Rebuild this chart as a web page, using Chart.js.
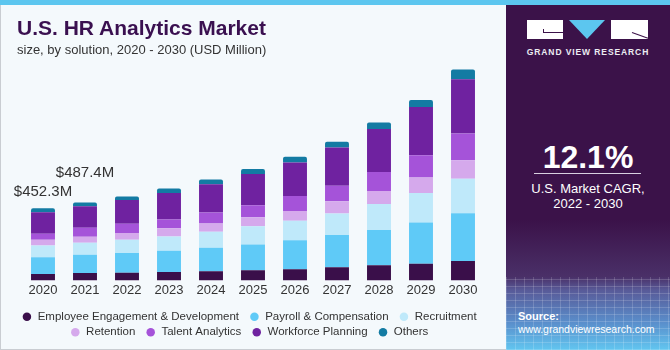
<!DOCTYPE html>
<html lang="en">
<head>
<meta charset="UTF-8" />
<title>U.S. HR Analytics Market</title>
<script src="https://cdn.jsdelivr.net/npm/chart.js"></script>
<style>
    body {
        margin: 0;
        width: 670px;
        height: 350px;
        overflow: hidden;
        position: relative;
        background: #f4f9fc;
        font-family: "Liberation Sans", Arial, sans-serif;
    }
    #topbar { position: absolute; left: 0; top: 0; width: 670px; height: 5px; background: #5cc6ef; }
    #edgeL { position: absolute; left: 0; top: 5px; width: 1px; height: 345px; background: #c9cdd2; }
    #edgeB { position: absolute; left: 0; top: 349px; width: 506px; height: 1px; background: #c9cdd2; }
    #title {
        position: absolute; left: 17px; top: 17px;
        font-size: 21px; line-height: 21px; font-weight: bold; color: #3a1050;
    }
    #subtitle {
        position: absolute; left: 17px; top: 43px;
        font-size: 13px; line-height: 13px; color: #333;
    }
    #chartBox { position: absolute; left: 0; top: 0; width: 505px; height: 350px; }
    #side {
        position: absolute; left: 506px; top: 5px; width: 164px; height: 345px; overflow: hidden;
        background: linear-gradient(to bottom, #3b1249 0px, #3b1249 215px, #4a3068 272px, #585a98 285px, #5a8fcc 318px, #62c6f0 345px);
        color: #fff;
    }
    #grid {
        position: absolute; left: 0; top: 272px; width: 164px; height: 73px;
        background:
            repeating-linear-gradient(90deg, rgba(255,255,255,0.16) 0 1px, transparent 1px 9px),
            repeating-linear-gradient(0deg, rgba(255,255,255,0.16) 0 1px, transparent 1px 7px);
    }
    .blk { position: absolute; top: 15px; height: 19px; background: #fff; }
    #tri {
        position: absolute; left: 63px; top: 15px; width: 0; height: 0;
        border-left: 18.5px solid transparent; border-right: 18.5px solid transparent;
        border-top: 19px solid #5cc6ef;
    }
    #brand {
        position: absolute; left: 0; top: 43px; width: 164px; text-align: center;
        font-size: 8.5px; line-height: 9px; font-weight: bold; letter-spacing: 0.9px; color: #ececf2;
    }
    #cagr {
        position: absolute; left: 0; top: 136px; width: 164px; text-align: center;
        font-size: 32px; line-height: 32px; font-weight: bold;
    }
    #rule { position: absolute; left: 28px; top: 168px; width: 107px; height: 1px; background: #d8d0e0; }
    #cagrSub {
        position: absolute; left: 0; top: 176px; width: 164px; text-align: center;
        font-size: 13px; line-height: 15px;
    }
    #src { position: absolute; left: 12px; top: 305px; font-size: 10.5px; line-height: 13px; }
    #src b { font-size: 11px; }
</style>
</head>
<body>
<div id="topbar"></div>
<div id="edgeL"></div>
<div id="edgeB"></div>
<div id="chartBox"><canvas id="chart" width="505" height="350"></canvas></div>
<div id="title">U.S. HR Analytics Market</div>
<div id="subtitle">size, by solution, 2020 - 2030 (USD Million)</div>

<div id="side">
    <div id="grid"></div>
    <div class="blk" style="left: 21px; width: 36px"></div>
    <div style="position: absolute; left: 37px; top: 27px; width: 20px; height: 1px; background: #3b1249"></div>
    <div style="position: absolute; left: 37px; top: 24px; width: 1px; height: 4px; background: #3b1249"></div>
    <div id="tri"></div>
    <div class="blk" style="left: 105px; width: 37px"></div>
    <div style="position: absolute; left: 126px; top: 27px; width: 17px; height: 1px; background: #3b1249; transform: rotate(20deg); transform-origin: left center"></div>
    <div id="brand">GRAND VIEW RESEARCH</div>
    <div id="cagr">12.1%</div>
    <div id="rule"></div>
    <div id="cagrSub">U.S. Market CAGR,<br />2022 - 2030</div>
    <div id="src"><b>Source:</b><br />www.grandviewresearch.com</div>
</div>

<script>
    const years = ["2020", "2021", "2022", "2023", "2024", "2025", "2026", "2027", "2028", "2029", "2030"]

    // USD Million
    const employeeEngagement = [40, 46, 48, 52, 57, 63, 70, 82, 95, 105, 122]
    const payrollCompensation = [105, 114, 123, 133, 147, 162, 181, 202, 221, 257, 299]
    const recruitment = [73, 76, 84, 90, 101, 114, 123, 135, 162, 185, 215]
    const retention = [36, 38, 42, 51, 51, 57, 61, 76, 82, 97, 116]
    const talentAnalytics = [38, 55, 57, 55, 69, 74, 93, 97, 118, 139, 168]
    const workforcePlanning = [135, 135, 149, 166, 177, 196, 210, 240, 270, 303, 339]
    const others = [25, 23, 23, 28, 30, 32, 36, 36, 40, 44, 61]

    const seriesNames = [
        "Employee Engagement & Development",
        "Payroll & Compensation",
        "Recruitment",
        "Retention",
        "Talent Analytics",
        "Workforce Planning",
        "Others",
    ]
    const seriesColors = ["#3a0f4a", "#5fcaf7", "#bfe9fa", "#d5a9ec", "#a553d9", "#6f22a0", "#137ba3"]
    const totalLabels = ["$452.3M", "$487.4M"]

    const seriesValues = [
        employeeEngagement,
        payrollCompensation,
        recruitment,
        retention,
        talentAnalytics,
        workforcePlanning,
        others,
    ]

    Chart.defaults.font.family = '"Liberation Sans", Arial, sans-serif'
    Chart.defaults.color = "#333"

    // value labels over the first two bars
    const totalsPlugin = {
        id: "totals",
        afterDatasetsDraw(chart) {
            const meta = chart.getDatasetMeta(chart.data.datasets.length - 1)
            const lift = [16, 30]
            const ctx = chart.ctx
            ctx.save()
            ctx.font = '15px "Liberation Sans", Arial, sans-serif'
            ctx.fillStyle = "#333"
            ctx.textAlign = "center"
            ctx.textBaseline = "middle"
            totalLabels.forEach((t, i) => {
                const bar = meta.data[i]
                ctx.fillText(t, bar.x, bar.y - lift[i])
            })
            ctx.restore()
        },
    }

    const datasets = seriesNames.map((name, i) => ({
        label: name,
        data: seriesValues[i],
        backgroundColor: seriesColors[i],
        borderWidth: 0,
        borderRadius: i === seriesNames.length - 1 ? 2 : 0,
        barPercentage: 0.57,
        categoryPercentage: 1,
    }))

    new Chart(document.getElementById("chart"), {
        type: "bar",
        data: { labels: years, datasets: datasets },
        plugins: [totalsPlugin],
        options: {
            responsive: false,
            animation: false,
            layout: { padding: { top: 60, left: 5, right: 5, bottom: 2 } },
            scales: {
                x: {
                    stacked: true,
                    grid: { display: false, drawTicks: false },
                    border: { display: false },
                    ticks: { font: { size: 13 }, color: "#333", padding: 2 },
                    afterFit(scale) {
                        scale.height += 7
                    },
                },
                y: {
                    stacked: true,
                    min: 0,
                    max: 1380,
                    ticks: { display: false },
                    grid: { display: false, drawTicks: false },
                    border: { display: false },
                    afterFit(scale) {
                        scale.width = 17
                    },
                },
                yRight: {
                    type: "linear",
                    position: "right",
                    ticks: { display: false },
                    grid: { display: false, drawTicks: false },
                    border: { display: false },
                    afterFit(scale) {
                        scale.width = 16
                    },
                },
            },
            plugins: {
                tooltip: { enabled: false },
                legend: {
                    position: "bottom",
                    labels: {
                        usePointStyle: true,
                        pointStyle: "circle",
                        boxWidth: 10,
                        boxHeight: 6,
                        padding: 4,
                        color: "#333",
                        font: { size: 11.5 },
                        generateLabels(chart) {
                            const items = Chart.defaults.plugins.legend.labels.generateLabels(chart)
                            items.forEach((it) => (it.text += "  "))
                            return items
                        },
                    },
                },
            },
        },
    })
</script>
</body>
</html>
